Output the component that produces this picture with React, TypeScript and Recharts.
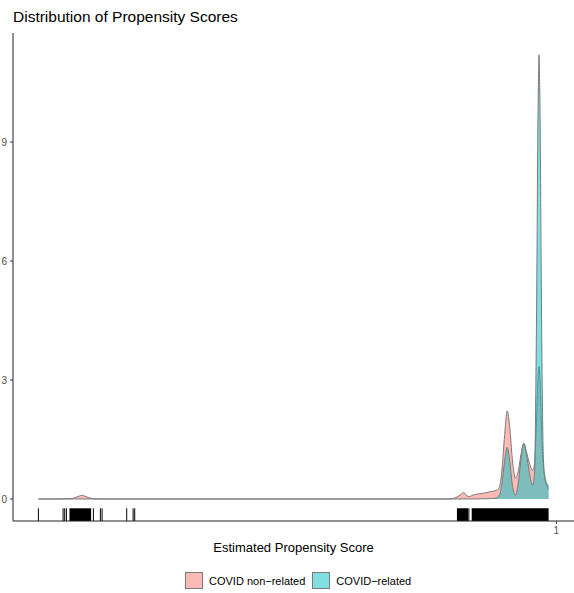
import { Area, ComposedChart, ReferenceArea, ReferenceLine, XAxis, YAxis } from 'recharts'

// estimated propensity score grid and density estimates
const scores = [
  0, 0.03, 0.06, 0.07, 0.078, 0.085, 0.092, 0.1, 0.115, 0.4,
  0.79, 0.8, 0.812, 0.821, 0.83, 0.842, 0.861, 0.875, 0.885, 0.89,
  0.895, 0.9, 0.905, 0.91, 0.915, 0.921, 0.927, 0.932, 0.937, 0.942,
  0.948, 0.954, 0.958, 0.9605, 0.9625, 0.964, 0.9655, 0.9665, 0.9675, 0.969,
  0.9705, 0.9725, 0.975, 0.978, 0.982, 0.985,
]
const nonCovidDensity = [
  0, 0, 0.005, 0.03, 0.07, 0.09, 0.06, 0.02, 0, 0,
  0, 0.01, 0.08, 0.16, 0.06, 0.11, 0.15, 0.19, 0.22, 0.3,
  0.75, 1.6, 2.22, 1.8, 1.0, 0.52, 0.75, 1.15, 1.4, 1.2,
  0.9, 0.72, 0.9, 1.6, 2.3, 2.9, 3.25, 3.34, 3.2, 2.8,
  2.1, 1.3, 0.8, 0.5, 0.32, 0.24,
]
const covidDensity = [
  0, 0, 0, 0, 0, 0, 0, 0, 0, 0,
  0, 0, 0, 0, 0, 0, 0.005, 0.01, 0.03, 0.1,
  0.4, 0.95, 1.3, 0.95, 0.35, 0.1, 0.45, 1.05, 1.4, 1.15,
  0.65, 0.35, 0.7, 3.0, 6.0, 9.0, 10.6, 11.2, 10.6, 9.0,
  6.0, 3.0, 1.0, 0.55, 0.38, 0.3,
]

// rug marks (single observations and dense runs)
const rugTicks = [0, 0.0477, 0.0508, 0.0541, 0.1062, 0.1197, 0.123, 0.1705, 0.1829, 0.186, 0.831]
const rugRuns = [
  [0.06, 0.1018],
  [0.808, 0.8295],
  [0.8365, 0.985],
]

const xTicks = [1]
const yTicks = [0, 3, 6, 9]

const Y_MIN = -0.555
const RUG_TOP = -0.235

const PINK = '#F8766D'
const TEAL = '#00BFC4'
const OUTLINE = '#7a7a7a'
const FONT = '"Liberation Sans", Arial, Helvetica, sans-serif'

const chartData = scores.map((x, i) => ({
  x,
  nonCovid: nonCovidDensity[i],
  covid: covidDensity[i],
}))

function LegendKey({ color, label }: { color: string; label: string }) {
  return (
    <div style={{ display: 'flex', alignItems: 'center', marginRight: 7 }}>
      <div
        style={{
          width: 18,
          height: 17,
          boxSizing: 'border-box',
          border: `1px solid ${OUTLINE}`,
          background: color,
          opacity: 1,
        }}
      />
      <span style={{ marginLeft: 6, fontSize: 11, color: '#000' }}>{label}</span>
    </div>
  )
}

export default function App() {
  return (
    <div
      style={{
        position: 'absolute',
        left: 0,
        top: 0,
        width: 574,
        height: 593,
        background: '#fff',
        fontFamily: FONT,
        overflow: 'hidden',
      }}
    >
      <div style={{ position: 'absolute', left: 13, top: 9, fontSize: 15.5, lineHeight: '16px', color: '#000' }}>
        Distribution of Propensity Scores
      </div>
      <ComposedChart
        width={574}
        height={560}
        data={chartData}
        margin={{ top: 33, right: 0, bottom: 0, left: 0 }}
        style={{ fontFamily: FONT }}
      >
        <XAxis
          type="number"
          dataKey="x"
          domain={[-0.049, 1.034]}
          ticks={xTicks}
          allowDataOverflow
          height={39}
          stroke="#222"
          tickSize={3}
          tickMargin={3}
          tick={{ fill: '#4d4d4d', fontSize: 10 }}
          tickLine={{ stroke: '#333' }}
          label={{ value: 'Estimated Propensity Score', position: 'insideBottom', offset: 8, fill: '#000', fontSize: 13 }}
        />
        <YAxis
          type="number"
          domain={[Y_MIN, 11.75]}
          ticks={yTicks}
          allowDataOverflow
          width={13}
          stroke="#222"
          tickSize={3}
          tickMargin={3}
          tick={{ fill: '#4d4d4d', fontSize: 10 }}
          tickLine={{ stroke: '#333' }}
        />
        <Area
          type="monotone"
          dataKey="nonCovid"
          fill={PINK}
          fillOpacity={0.5}
          stroke={OUTLINE}
          strokeWidth={1}
          dot={false}
          activeDot={false}
          isAnimationActive={false}
        />
        <Area
          type="monotone"
          dataKey="covid"
          fill={TEAL}
          fillOpacity={0.5}
          stroke={OUTLINE}
          strokeWidth={1}
          dot={false}
          activeDot={false}
          isAnimationActive={false}
        />
        {rugRuns.map(([a, b], i) => (
          <ReferenceArea key={`run-${i}`} x1={a} x2={b} y1={Y_MIN} y2={RUG_TOP} fill="#000" fillOpacity={1} stroke="none" />
        ))}
        {rugTicks.map((t, i) => (
          <ReferenceLine
            key={`tick-${i}`}
            segment={[
              { x: t, y: Y_MIN },
              { x: t, y: RUG_TOP },
            ]}
            stroke="#000"
            strokeWidth={1}
          />
        ))}
      </ComposedChart>
      <div style={{ position: 'absolute', left: 185, top: 572, display: 'flex', alignItems: 'center' }}>
        <LegendKey color="rgba(248,118,109,0.5)" label="COVID non−related" />
        <LegendKey color="rgba(0,191,196,0.5)" label="COVID−related" />
      </div>
    </div>
  )
}
